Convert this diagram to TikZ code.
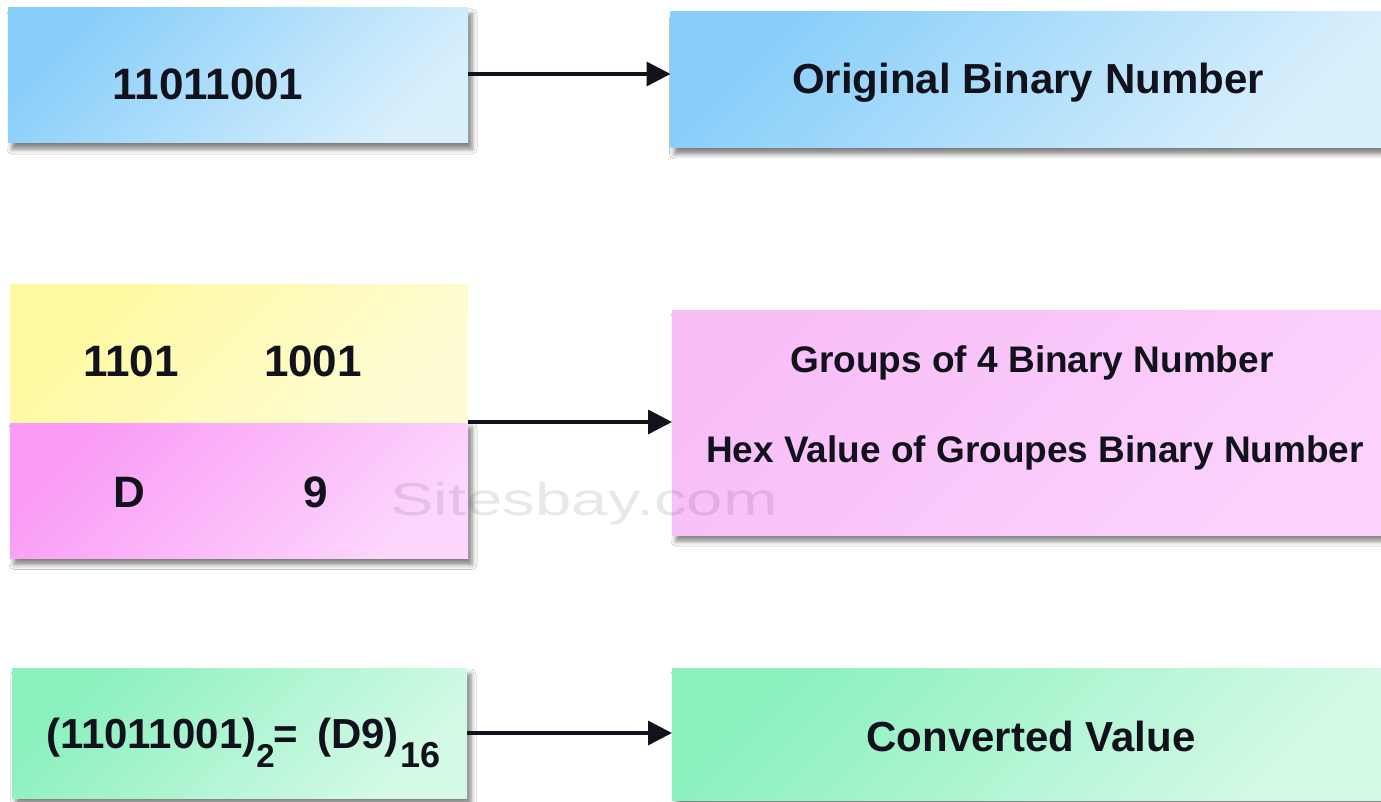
\documentclass[tikz,border=0pt]{standalone}
\usepackage{fontspec}
\usepackage{graphicx}
\setmainfont{Liberation Sans}
\usetikzlibrary{arrows.meta,shadows.blur}

% fill colours of the boxes (dark end / light end of each gradient)
\definecolor{blueA}{RGB}{136,206,250}
\definecolor{blueB}{RGB}{216,239,252}
\definecolor{yelA}{RGB}{255,249,160}
\definecolor{yelB}{RGB}{253,252,212}
\definecolor{pinkA}{RGB}{250,155,246}
\definecolor{pinkB}{RGB}{252,214,252}
\definecolor{pinkC}{RGB}{248,190,248}
\definecolor{pinkD}{RGB}{252,210,252}
\definecolor{greenA}{RGB}{138,240,190}
\definecolor{greenB}{RGB}{212,250,230}
\definecolor{ink}{RGB}{18,18,28}

\begin{document}
\begin{tikzpicture}[x=1pt,y=-1pt,
  box/.style={inner sep=0pt, outer sep=0pt,
    blur shadow={shadow xshift=4pt, shadow yshift=-6pt,
                 shadow blur radius=5pt, shadow opacity=50}},
  plainbox/.style={inner sep=0pt, outer sep=0pt},
  txt/.style={text=ink, font=\fontsize{44}{44}\selectfont\bfseries,
              inner sep=0pt, anchor=base},
  label/.style={text=ink, font=\fontsize{42}{42}\selectfont\bfseries,
                inner sep=0pt, anchor=base},
  formula/.style={label, anchor=base west},
  small/.style={text=ink, font=\fontsize{37}{37}\selectfont\bfseries,
                inner sep=0pt, anchor=base},
  link/.style={line width=3.5pt, draw=ink,
               -{Triangle[length=24pt,width=24pt]}},
]
\useasboundingbox (0,0) rectangle (1381,802);
\fill[white] (0,0) rectangle (1381,802);

% ---- row 1: the binary number ----
\node[box, top color=blueA, bottom color=blueB, shading angle=45,
      minimum width=460pt, minimum height=135pt] (bin) at (238,75.5) {};
\node[box, top color=blueA, bottom color=blueB, shading angle=45,
      minimum width=711pt, minimum height=136pt] (binlbl) at (1026,80) {};
\node[txt] (bintxt) at (208,100) {11011001};
\node[label] (binlbltxt) at (1028,94) {Original Binary Number};

% ---- row 2: groups of four bits and their hex digits ----
\node[box, top color=pinkA, bottom color=pinkB, shading angle=45,
      minimum width=458pt, minimum height=137pt] (hex) at (239,490) {};
\node[plainbox, top color=yelA, bottom color=yelB, shading angle=45,
      minimum width=458pt, minimum height=137pt] (grp) at (239,353.5) {};
\node[box, top color=pinkC, bottom color=pinkD, shading angle=45,
      minimum width=709pt, minimum height=225pt] (grplbl) at (1026.5,422.5) {};
\node[txt] (g1) at (131,376) {1101};
\node[txt] (g2) at (313,376) {1001};
\node[txt] (h1) at (129,507) {D};
\node[txt] (h2) at (316,507) {9};
\node[small] (grplbltxt) at (1032,372) {Groups of 4 Binary Number};
\node[small] (hexlbltxt) at (1035,462) {Hex Value of Groupes Binary Number};

% ---- row 3: the result ----
\node[box, top color=greenA, bottom color=greenB, shading angle=45,
      minimum width=455pt, minimum height=130pt] (res) at (239.5,733) {};
\node[box, top color=greenA, bottom color=greenB, shading angle=45,
      minimum width=709pt, minimum height=132pt] (reslbl) at (1026.5,734) {};
\node[formula] (restxt) at (46,748)
  {(11011001)\raisebox{-19pt}{\fontsize{33}{33}\selectfont 2}\kern-1pt=\hspace{19pt}(D9)\raisebox{-19pt}{\hspace{2pt}\fontsize{36}{36}\selectfont 16}};
\node[label] (reslbltxt) at (1031,751) {Converted Value};

% ---- connectors ----
\draw[link] (bin.east |- 0,74) -- (binlbl.west |- 0,74);
\draw[link] (grp.south east) -- (grp.south east -| grplbl.west);
\draw[link] (res.east |- 0,733) -- (reslbl.west |- 0,733);

% ---- watermark ----
\node[text=black, opacity=0.09, font=\fontsize{46}{46}\selectfont,
      inner sep=0pt] (mark) at (584,504) {\scalebox{1.42}[1]{Sitesbay.com}};
\end{tikzpicture}
\end{document}
